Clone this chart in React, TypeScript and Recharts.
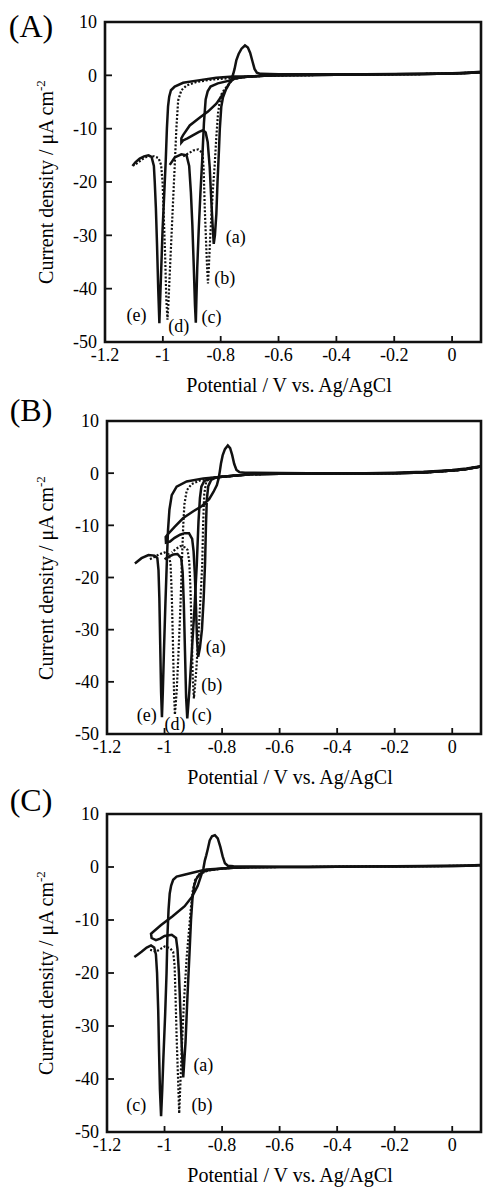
import React from 'react';
import { LineChart, Line, XAxis, YAxis, ReferenceArea, ReferenceDot } from 'recharts';

type Pt = [number, number];

const FONT = '"Liberation Serif", "Times New Roman", Times, serif';
const INK = '#111';

const xTicks = [-1.2, -1, -0.8, -0.6, -0.4, -0.2, 0];
const yTicks = [-50, -40, -30, -20, -10, 0, 10];

// ---- panel A: potential (V) / current density (uA cm-2) ----
const baseA: Pt[] = [[0.1, 0.6], [0.05, 0.45], [0, 0.35], [-0.1, 0.25], [-0.2, 0.2], [-0.3, 0.15], [-0.4, 0.1], [-0.5, 0.05], [-0.6, 0], [-0.65, -0.1], [-0.7, -0.2]];
const returnA: Pt[] = [[-0.66, 0.3], [-0.6, 0.2], [-0.5, 0.2], [-0.4, 0.2], [-0.3, 0.2], [-0.2, 0.25], [-0.1, 0.3], [0, 0.4], [0.05, 0.5], [0.1, 0.65]];
const sweepAa: Pt[] = [[-0.73, -0.35], [-0.757, -0.7], [-0.769, -1.4], [-0.78, -2.4], [-0.792, -4.1], [-0.798, -5.9], [-0.803, -10], [-0.806, -14], [-0.811, -20], [-0.815, -26], [-0.82, -30], [-0.824, -31.6], [-0.827, -29], [-0.832, -24], [-0.838, -17.2], [-0.845, -12.5], [-0.852, -10.7], [-0.861, -10.3], [-0.875, -10.6], [-0.895, -11.2], [-0.915, -11.8], [-0.93, -12.2], [-0.936, -12.6], [-0.936, -11.8], [-0.93, -11.2], [-0.907, -9.4], [-0.872, -7.9], [-0.844, -6.8], [-0.815, -5.3], [-0.792, -3.5], [-0.778, -2.3], [-0.769, -1.4], [-0.762, -0.6], [-0.757, 0.2], [-0.752, 1.2], [-0.746, 2.8], [-0.738, 4.0], [-0.728, 5.0], [-0.716, 5.6], [-0.706, 5.2], [-0.698, 4.2], [-0.69, 2.6], [-0.683, 1.2], [-0.675, 0.5], [-0.665, 0.3]];
const sweepAb: Pt[] = [[-0.73, -0.4], [-0.76, -0.8], [-0.775, -1.9], [-0.788, -2.7], [-0.798, -3.6], [-0.805, -5.5], [-0.809, -7], [-0.815, -11.5], [-0.821, -17], [-0.827, -21.5], [-0.836, -30], [-0.841, -36], [-0.844, -39], [-0.847, -36], [-0.85, -32], [-0.855, -25], [-0.859, -17.5], [-0.863, -14.5], [-0.878, -13.9], [-0.895, -14.1], [-0.91, -14.6], [-0.93, -15.2]];
const sweepAc: Pt[] = [[-0.75, -0.55], [-0.77, -1.0], [-0.81, -1.5], [-0.835, -2.1], [-0.845, -3.0], [-0.852, -4.5], [-0.858, -9], [-0.864, -16], [-0.87, -22], [-0.876, -29], [-0.881, -36], [-0.884, -42], [-0.886, -46.4], [-0.889, -43], [-0.893, -36], [-0.898, -28], [-0.903, -22], [-0.909, -17], [-0.918, -15], [-0.936, -14.8], [-0.959, -15.4], [-0.976, -16.8]];
const sweepAd: Pt[] = [[-0.75, -0.5], [-0.8, -0.65], [-0.838, -0.85], [-0.884, -1.25], [-0.918, -1.9], [-0.936, -2.8], [-0.947, -4.7], [-0.953, -9.7], [-0.959, -17], [-0.965, -24], [-0.97, -30], [-0.976, -37], [-0.981, -43], [-0.984, -45.8], [-0.988, -42], [-0.992, -34], [-0.997, -26], [-1.001, -20], [-1.006, -16.8], [-1.015, -15.5], [-1.03, -15.2], [-1.05, -15.1], [-1.07, -15.7], [-1.085, -16.3], [-1.1, -16.9]];
const sweepAe: Pt[] = [[-0.757, -0.2], [-0.815, -0.45], [-0.872, -0.9], [-0.93, -1.4], [-0.959, -2.1], [-0.972, -2.8], [-0.978, -4], [-0.982, -5.8], [-0.986, -10], [-0.99, -16], [-0.995, -22], [-1.001, -29], [-1.006, -37], [-1.01, -43], [-1.012, -46.5], [-1.016, -40], [-1.02, -32], [-1.024, -25], [-1.028, -20], [-1.031, -17], [-1.039, -15.3], [-1.05, -15], [-1.065, -15.2], [-1.08, -15.6], [-1.095, -16.3], [-1.105, -17]];

// ---- panel B ----
const baseB: Pt[] = [[0.1, 1.3], [0.07, 1.0], [0.05, 0.8], [0.02, 0.6], [0, 0.5], [-0.05, 0.3], [-0.1, 0.15], [-0.2, 0], [-0.3, -0.05], [-0.4, -0.05], [-0.5, -0.1], [-0.6, -0.1], [-0.7, -0.2], [-0.75, -0.45], [-0.8, -0.7]];
const returnB: Pt[] = [[-0.72, 0.1], [-0.6, 0.05], [-0.5, 0], [-0.4, 0], [-0.3, 0], [-0.2, 0.1], [-0.1, 0.25], [-0.05, 0.4], [0, 0.6], [0.05, 0.9], [0.1, 1.35]];
const sweepBa: Pt[] = [[-0.82, -0.8], [-0.838, -1.3], [-0.848, -2.5], [-0.853, -5], [-0.856, -10], [-0.859, -17], [-0.864, -24], [-0.87, -30], [-0.877, -33.5], [-0.883, -35.2], [-0.887, -32], [-0.891, -25], [-0.895, -19], [-0.899, -15], [-0.904, -12.6], [-0.915, -11.5], [-0.93, -11.5], [-0.946, -11.8], [-0.965, -12.4], [-0.981, -13.1], [-0.995, -13.3], [-0.996, -12.2], [-0.99, -11.8], [-0.965, -10.3], [-0.935, -8.6], [-0.9, -7.3], [-0.87, -6.3], [-0.845, -5.0], [-0.83, -3.6], [-0.818, -2.3], [-0.812, -1.0], [-0.808, 0.3], [-0.804, 1.8], [-0.798, 3.4], [-0.79, 4.6], [-0.78, 5.3], [-0.772, 4.8], [-0.765, 3.5], [-0.758, 1.8], [-0.75, 0.6], [-0.74, 0.2]];
const sweepBb: Pt[] = [[-0.84, -0.95], [-0.855, -1.6], [-0.862, -4], [-0.866, -10], [-0.869, -17.6], [-0.875, -24], [-0.882, -31], [-0.89, -38], [-0.898, -43.2], [-0.902, -39], [-0.906, -30], [-0.91, -22], [-0.914, -17], [-0.92, -14.7], [-0.93, -14.2], [-0.945, -14], [-0.96, -14.5], [-0.975, -15.2]];
const sweepBc: Pt[] = [[-0.84, -1.0], [-0.862, -1.5], [-0.872, -2.6], [-0.877, -4.8], [-0.882, -9.3], [-0.888, -17.6], [-0.896, -26], [-0.905, -34], [-0.914, -42], [-0.921, -47], [-0.925, -43], [-0.929, -34], [-0.933, -25], [-0.937, -19], [-0.942, -16.3], [-0.955, -15.5], [-0.97, -15.6], [-0.985, -16], [-1.0, -16.5]];
const sweepBd: Pt[] = [[-0.85, -1.0], [-0.877, -1.4], [-0.906, -2.1], [-0.923, -3.3], [-0.931, -6], [-0.935, -10], [-0.94, -17.6], [-0.945, -26], [-0.952, -35], [-0.958, -42], [-0.964, -46.3], [-0.967, -42], [-0.971, -32], [-0.975, -23], [-0.979, -17.5], [-0.985, -15.6], [-1.0, -15.2], [-1.02, -15.6], [-1.04, -16.2], [-1.055, -16.6]];
const sweepBe: Pt[] = [[-0.865, -1.0], [-0.923, -1.6], [-0.958, -2.6], [-0.975, -4.2], [-0.983, -7], [-0.988, -11], [-0.992, -17], [-0.997, -25], [-1.002, -34], [-1.006, -42], [-1.009, -46.8], [-1.012, -42], [-1.015, -33], [-1.018, -24], [-1.021, -18.6], [-1.025, -16.3], [-1.035, -15.8], [-1.056, -15.7], [-1.08, -16.3], [-1.103, -17.3]];

// ---- panel C ----
const baseC: Pt[] = [[0.1, 0.35], [0.05, 0.25], [0, 0.2], [-0.1, 0.15], [-0.2, 0.1], [-0.3, 0.1], [-0.4, 0.05], [-0.5, 0], [-0.6, 0], [-0.7, -0.05], [-0.76, -0.15], [-0.8, -0.3]];
const returnC: Pt[] = [[-0.76, 0.15], [-0.7, 0.1], [-0.6, 0.05], [-0.5, 0.05], [-0.4, 0.1], [-0.3, 0.1], [-0.2, 0.15], [-0.1, 0.2], [0, 0.25], [0.05, 0.3], [0.1, 0.4]];
const sweepCa: Pt[] = [[-0.848, -0.6], [-0.87, -1.0], [-0.882, -1.6], [-0.89, -2.3], [-0.897, -3.5], [-0.903, -6], [-0.908, -10], [-0.913, -16], [-0.92, -24], [-0.927, -33], [-0.935, -39.7], [-0.94, -34], [-0.945, -27], [-0.95, -20], [-0.955, -15.5], [-0.96, -13.4], [-0.975, -12.8], [-1.0, -13.0], [-1.015, -13.5], [-1.03, -13.8], [-1.045, -13.4], [-1.047, -12.6], [-1.043, -12.4], [-1.013, -11], [-0.972, -9.3], [-0.93, -7.4], [-0.903, -5.5], [-0.885, -3.6], [-0.874, -1.8], [-0.865, -0.3], [-0.86, 1.2], [-0.855, 2.2], [-0.85, 3.3], [-0.843, 5.0], [-0.835, 5.8], [-0.825, 6.0], [-0.815, 5.4], [-0.806, 3.8], [-0.798, 2.0], [-0.79, 0.7], [-0.78, 0.25]];
const sweepCb: Pt[] = [[-0.848, -0.65], [-0.88, -1.4], [-0.894, -2.5], [-0.902, -4.5], [-0.908, -7.5], [-0.915, -12], [-0.923, -17], [-0.932, -25], [-0.94, -34], [-0.945, -41], [-0.949, -46.5], [-0.953, -40], [-0.958, -32], [-0.962, -24], [-0.965, -18.6], [-0.97, -16], [-0.981, -15.3], [-1.0, -15], [-1.015, -15.5], [-1.03, -16], [-1.05, -15.6]];
const sweepCc: Pt[] = [[-0.854, -0.45], [-0.889, -0.9], [-0.935, -1.5], [-0.958, -1.8], [-0.97, -2.4], [-0.977, -3.5], [-0.982, -5], [-0.986, -8], [-0.99, -13], [-0.993, -20], [-0.998, -28], [-1.004, -36], [-1.008, -42], [-1.012, -47], [-1.016, -42], [-1.019, -35], [-1.022, -27], [-1.026, -20], [-1.03, -16.5], [-1.036, -15.2], [-1.047, -14.8], [-1.062, -15.2], [-1.08, -16], [-1.095, -16.6], [-1.105, -17]];

interface Curve { id: string; points: Pt[]; dotted?: boolean }
interface Tag { text: string; v: number; i: number }

const curvesA: Curve[] = [
  { id: 'a', points: [...baseA, ...sweepAa, ...returnA] },
  { id: 'b', points: [...baseA, ...sweepAb], dotted: true },
  { id: 'c', points: [...baseA, ...sweepAc] },
  { id: 'd', points: [...baseA, ...sweepAd], dotted: true },
  { id: 'e', points: [...baseA, ...sweepAe] },
];
const curvesB: Curve[] = [
  { id: 'a', points: [...baseB, ...sweepBa, ...returnB] },
  { id: 'b', points: [...baseB, ...sweepBb], dotted: true },
  { id: 'c', points: [...baseB, ...sweepBc] },
  { id: 'd', points: [...baseB, ...sweepBd], dotted: true },
  { id: 'e', points: [...baseB, ...sweepBe] },
];
const curvesC: Curve[] = [
  { id: 'a', points: [...baseC, ...sweepCa, ...returnC] },
  { id: 'b', points: [...baseC, ...sweepCb], dotted: true },
  { id: 'c', points: [...baseC, ...sweepCc] },
];

const tagsA: Tag[] = [
  { text: '(a)', v: -0.748, i: -30.2 },
  { text: '(b)', v: -0.786, i: -37.9 },
  { text: '(c)', v: -0.832, i: -45.2 },
  { text: '(d)', v: -0.945, i: -47 },
  { text: '(e)', v: -1.091, i: -44.8 },
];
const tagsB: Tag[] = [
  { text: '(a)', v: -0.822, i: -33.3 },
  { text: '(b)', v: -0.836, i: -40.6 },
  { text: '(c)', v: -0.871, i: -46.2 },
  { text: '(d)', v: -0.964, i: -48 },
  { text: '(e)', v: -1.062, i: -46.2 },
];
const tagsC: Tag[] = [
  { text: '(a)', v: -0.865, i: -37.2 },
  { text: '(b)', v: -0.87, i: -44.8 },
  { text: '(c)', v: -1.098, i: -44.8 },
];

const toRows = (pts: Pt[]) => pts.map(([v, i]) => ({ v, i }));

const W = 483;
const PLOT_RIGHT = 481;
const Y_AXIS_W = 60;
const X_AXIS_H = 30;

interface PanelProps {
  top: number;
  height: number;
  plotTop: number;
  plotBottom: number;
  plotLeft: number;
  letter: string;
  letterY: number;
  curves: Curve[];
  tags: Tag[];
}

function Panel({ top, height, plotTop, plotBottom, plotLeft, letter, letterY, curves, tags }: PanelProps) {
  const margin = {
    top: plotTop,
    right: W - PLOT_RIGHT,
    left: plotLeft - Y_AXIS_W,
    bottom: height - plotBottom - X_AXIS_H,
  };
  const midY = (plotTop + plotBottom) / 2;
  const midX = (plotLeft + PLOT_RIGHT) / 2 - 4;
  const tickStyle = { fill: '#000', fontSize: 18, fontFamily: FONT };

  return (
    <div style={{ position: 'absolute', left: 0, top, width: W, height }}>
      <LineChart width={W} height={height} margin={margin}>
        <XAxis
          type="number"
          dataKey="v"
          domain={[-1.2, 0.1]}
          ticks={xTicks}
          interval={0}
          allowDataOverflow
          height={X_AXIS_H}
          axisLine={false}
          tickLine={{ stroke: INK, strokeWidth: 1.8 }}
          tickSize={-6}
          tickMargin={12}
          tick={tickStyle}
        />
        <YAxis
          type="number"
          dataKey="i"
          domain={[-50, 10]}
          ticks={yTicks}
          interval={0}
          allowDataOverflow
          width={Y_AXIS_W}
          axisLine={false}
          tickLine={{ stroke: INK, strokeWidth: 1.8 }}
          tickSize={-7}
          tickMargin={15}
          tick={tickStyle}
        />
        <ReferenceArea x1={-1.2} x2={0.1} y1={-50} y2={10} fill="none" stroke={INK} strokeWidth={2.6} />
        {curves.map((c) => (
          <Line
            key={c.id}
            data={toRows(c.points)}
            dataKey="i"
            type="linear"
            stroke={INK}
            strokeWidth={c.dotted ? 2.2 : 2.5}
            strokeDasharray={c.dotted ? '2 1.8' : undefined}
            dot={false}
            activeDot={false}
            isAnimationActive={false}
          />
        ))}
        {tags.map((t) => (
          <ReferenceDot
            key={t.text}
            x={t.v}
            y={t.i}
            r={1}
            fill="none"
            stroke="none"
            label={{ value: t.text, position: 'center', fill: '#000', fontSize: 18, fontFamily: FONT }}
          />
        ))}
      </LineChart>

      <div style={{ position: 'absolute', left: 31, top: letterY, transform: 'translate(-50%, -50%)', fontFamily: FONT, fontSize: 32, lineHeight: 1 }}>
        {letter}
      </div>
      <div
        style={{
          position: 'absolute',
          left: 45,
          top: midY,
          transform: 'translate(-50%, -50%) rotate(-90deg)',
          whiteSpace: 'nowrap',
          fontFamily: FONT,
          fontSize: 20,
          lineHeight: 1,
        }}
      >
        Current density / μA cm<span style={{ fontSize: 13, verticalAlign: '0.55em' }}>-2</span>
      </div>
      <div
        style={{
          position: 'absolute',
          left: midX,
          top: plotBottom + 43,
          transform: 'translate(-50%, -50%)',
          whiteSpace: 'nowrap',
          fontFamily: FONT,
          fontSize: 20,
          lineHeight: 1,
        }}
      >
        Potential / V vs. Ag/AgCl
      </div>
    </div>
  );
}

export default function App() {
  return (
    <div style={{ position: 'absolute', left: 0, top: 0, width: W, height: 1188, background: '#fff', overflow: 'hidden' }}>
      <Panel top={0} height={390} plotTop={22} plotBottom={342} plotLeft={105} letter="(A)" letterY={26} curves={curvesA} tags={tagsA} />
      <Panel top={390} height={390} plotTop={31} plotBottom={344} plotLeft={107} letter="(B)" letterY={20} curves={curvesB} tags={tagsB} />
      <Panel top={780} height={408} plotTop={34} plotBottom={352} plotLeft={107} letter="(C)" letterY={20} curves={curvesC} tags={tagsC} />
    </div>
  );
}
